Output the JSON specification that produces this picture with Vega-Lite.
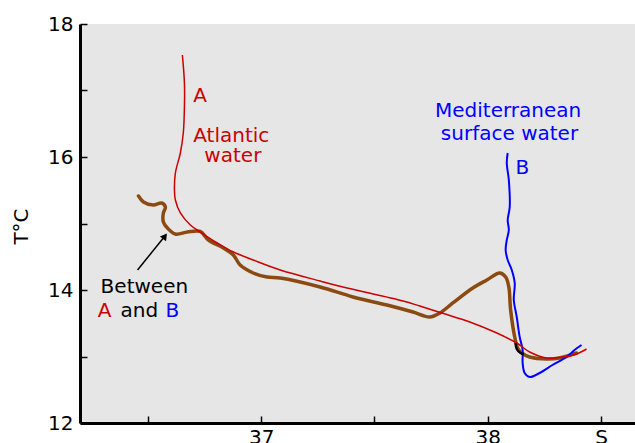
{
  "$schema": "https://vega.github.io/schema/vega-lite/v6.json",
  "width": 555,
  "height": 399,
  "autosize": "none",
  "padding": {"left": 80, "top": 24, "right": 0, "bottom": 20},
  "background": "white",
  "config": {
    "view": {"fill": "#e6e6e6", "stroke": null},
    "font": "DejaVu Sans",
    "axis": {
      "grid": false,
      "domainColor": "black",
      "domainWidth": 3,
      "tickColor": "black",
      "tickWidth": 1.5,
      "tickSize": -7,
      "labelFont": "DejaVu Sans",
      "labelFontSize": 20,
      "labelColor": "black",
      "titleFont": "DejaVu Sans",
      "titleFontSize": 20,
      "titleFontWeight": "normal",
      "titleColor": "black"
    }
  },
  "datasets": {
    "curves": [
      {"c": "brown", "i": 0, "S": 36.458, "T": 15.414},
      {"c": "brown", "i": 1, "S": 36.480, "T": 15.323},
      {"c": "brown", "i": 2, "S": 36.524, "T": 15.278},
      {"c": "brown", "i": 3, "S": 36.560, "T": 15.308},
      {"c": "brown", "i": 4, "S": 36.577, "T": 15.248},
      {"c": "brown", "i": 5, "S": 36.568, "T": 15.158},
      {"c": "brown", "i": 6, "S": 36.568, "T": 15.023},
      {"c": "brown", "i": 7, "S": 36.586, "T": 14.932},
      {"c": "brown", "i": 8, "S": 36.621, "T": 14.842},
      {"c": "brown", "i": 9, "S": 36.674, "T": 14.872},
      {"c": "brown", "i": 10, "S": 36.731, "T": 14.880},
      {"c": "brown", "i": 11, "S": 36.767, "T": 14.752},
      {"c": "brown", "i": 12, "S": 36.833, "T": 14.632},
      {"c": "brown", "i": 13, "S": 36.877, "T": 14.526},
      {"c": "brown", "i": 14, "S": 36.907, "T": 14.376},
      {"c": "brown", "i": 15, "S": 36.965, "T": 14.256},
      {"c": "brown", "i": 16, "S": 37.026, "T": 14.195},
      {"c": "brown", "i": 17, "S": 37.084, "T": 14.180},
      {"c": "brown", "i": 18, "S": 37.260, "T": 14.045},
      {"c": "brown", "i": 19, "S": 37.405, "T": 13.895},
      {"c": "brown", "i": 20, "S": 37.555, "T": 13.774},
      {"c": "brown", "i": 21, "S": 37.670, "T": 13.669},
      {"c": "brown", "i": 22, "S": 37.744, "T": 13.594},
      {"c": "brown", "i": 23, "S": 37.789, "T": 13.654},
      {"c": "brown", "i": 24, "S": 37.846, "T": 13.805},
      {"c": "brown", "i": 25, "S": 37.934, "T": 14.030},
      {"c": "brown", "i": 26, "S": 37.996, "T": 14.150},
      {"c": "brown", "i": 27, "S": 38.053, "T": 14.256},
      {"c": "brown", "i": 28, "S": 38.079, "T": 14.195},
      {"c": "brown", "i": 29, "S": 38.093, "T": 14.045},
      {"c": "brown", "i": 30, "S": 38.101, "T": 13.699},
      {"c": "brown", "i": 31, "S": 38.119, "T": 13.293},
      {"c": "brown", "i": 32, "S": 38.132, "T": 13.128},
      {"c": "brown", "i": 33, "S": 38.150, "T": 13.053},
      {"c": "brown", "i": 34, "S": 38.185, "T": 12.992},
      {"c": "brown", "i": 35, "S": 38.260, "T": 12.962},
      {"c": "brown", "i": 36, "S": 38.317, "T": 12.977},
      {"c": "brown", "i": 37, "S": 38.392, "T": 13.053},
      {"c": "blue", "i": 0, "S": 38.088, "T": 16.060},
      {"c": "blue", "i": 1, "S": 38.084, "T": 15.910},
      {"c": "blue", "i": 2, "S": 38.093, "T": 15.654},
      {"c": "blue", "i": 3, "S": 38.097, "T": 15.248},
      {"c": "blue", "i": 4, "S": 38.088, "T": 15.053},
      {"c": "blue", "i": 5, "S": 38.093, "T": 14.902},
      {"c": "blue", "i": 6, "S": 38.084, "T": 14.752},
      {"c": "blue", "i": 7, "S": 38.079, "T": 14.602},
      {"c": "blue", "i": 8, "S": 38.088, "T": 14.451},
      {"c": "blue", "i": 9, "S": 38.106, "T": 14.301},
      {"c": "blue", "i": 10, "S": 38.119, "T": 14.105},
      {"c": "blue", "i": 11, "S": 38.115, "T": 13.850},
      {"c": "blue", "i": 12, "S": 38.128, "T": 13.594},
      {"c": "blue", "i": 13, "S": 38.141, "T": 13.293},
      {"c": "blue", "i": 14, "S": 38.154, "T": 13.098},
      {"c": "blue", "i": 15, "S": 38.154, "T": 12.902},
      {"c": "blue", "i": 16, "S": 38.163, "T": 12.752},
      {"c": "blue", "i": 17, "S": 38.185, "T": 12.692},
      {"c": "blue", "i": 18, "S": 38.229, "T": 12.752},
      {"c": "blue", "i": 19, "S": 38.286, "T": 12.872},
      {"c": "blue", "i": 20, "S": 38.348, "T": 12.992},
      {"c": "blue", "i": 21, "S": 38.383, "T": 13.098},
      {"c": "blue", "i": 22, "S": 38.414, "T": 13.173},
      {"c": "red", "i": 0, "S": 36.652, "T": 17.534},
      {"c": "red", "i": 1, "S": 36.661, "T": 17.113},
      {"c": "red", "i": 2, "S": 36.661, "T": 16.752},
      {"c": "red", "i": 3, "S": 36.656, "T": 16.361},
      {"c": "red", "i": 4, "S": 36.643, "T": 16.060},
      {"c": "red", "i": 5, "S": 36.621, "T": 15.759},
      {"c": "red", "i": 6, "S": 36.617, "T": 15.504},
      {"c": "red", "i": 7, "S": 36.621, "T": 15.353},
      {"c": "red", "i": 8, "S": 36.643, "T": 15.158},
      {"c": "red", "i": 9, "S": 36.687, "T": 14.977},
      {"c": "red", "i": 10, "S": 36.731, "T": 14.872},
      {"c": "red", "i": 11, "S": 36.806, "T": 14.707},
      {"c": "red", "i": 12, "S": 36.877, "T": 14.571},
      {"c": "red", "i": 13, "S": 36.965, "T": 14.451},
      {"c": "red", "i": 14, "S": 37.084, "T": 14.301},
      {"c": "red", "i": 15, "S": 37.260, "T": 14.135},
      {"c": "red", "i": 16, "S": 37.361, "T": 14.045},
      {"c": "red", "i": 17, "S": 37.626, "T": 13.835},
      {"c": "red", "i": 18, "S": 37.700, "T": 13.759},
      {"c": "red", "i": 19, "S": 37.797, "T": 13.654},
      {"c": "red", "i": 20, "S": 37.921, "T": 13.519},
      {"c": "red", "i": 21, "S": 38.040, "T": 13.353},
      {"c": "red", "i": 22, "S": 38.128, "T": 13.203},
      {"c": "red", "i": 23, "S": 38.185, "T": 13.068},
      {"c": "red", "i": 24, "S": 38.260, "T": 12.977},
      {"c": "red", "i": 25, "S": 38.330, "T": 12.992},
      {"c": "red", "i": 26, "S": 38.392, "T": 13.038},
      {"c": "red", "i": 27, "S": 38.436, "T": 13.113},
      {"c": "black", "i": 0, "S": 38.123, "T": 13.203},
      {"c": "black", "i": 1, "S": 38.128, "T": 13.113},
      {"c": "black", "i": 2, "S": 38.145, "T": 13.053},
      {"c": "black", "i": 3, "S": 38.159, "T": 13.038}
    ],
    "labels": [
      {"txt": "A", "S": 36.700, "T": 16.827, "col": "#cc0000"},
      {"txt": "Atlantic", "S": 36.700, "T": 16.226, "col": "#cc0000"},
      {"txt": "water", "S": 36.749, "T": 15.925, "col": "#cc0000"},
      {"txt": "Mediterranean", "S": 37.767, "T": 16.602, "col": "#0000ff"},
      {"txt": "surface water", "S": 37.793, "T": 16.256, "col": "#0000ff"},
      {"txt": "B", "S": 38.123, "T": 15.744, "col": "#0000ff"},
      {"txt": "Between", "S": 36.291, "T": 13.955, "col": "black"},
      {"txt": "A", "S": 36.278, "T": 13.594, "col": "#cc0000"},
      {"txt": "and", "S": 36.379, "T": 13.594, "col": "black"},
      {"txt": "B", "S": 36.577, "T": 13.594, "col": "#0000ff"}
    ],
    "arrow": [
      {"S": 36.454, "T": 14.301, "S2": 36.568, "T2": 14.782, "HS": 36.575, "HT": 14.809}
    ]
  },
  "encoding": {
    "x": {
      "field": "S", "type": "quantitative",
      "scale": {"domain": [36.2, 38.65], "nice": false, "zero": false},
      "axis": {
        "title": null,
        "values": [36.5, 37, 37.5, 38, 38.5],
        "labelExpr": "datum.value == 37 ? '37' : datum.value == 38 ? '38' : datum.value == 38.5 ? 'S' : ''",
        "labelPadding": 11,
        "labelFlush": false
      }
    },
    "y": {
      "field": "T", "type": "quantitative",
      "scale": {"domain": [12, 18], "nice": false, "zero": false},
      "axis": {
        "title": "T°C",
        "values": [12, 13, 14, 15, 16, 17, 18],
        "labelExpr": "datum.value % 2 == 0 ? datum.label : ''",
        "labelPadding": 14,
        "titleX": -53,
        "titleY": 202,
        "titleAngle": -90,
        "titleAlign": "center",
        "titleBaseline": "alphabetic"
      }
    }
  },
  "layer": [
    {
      "data": {"name": "curves"},
      "transform": [{"filter": "datum.c == 'brown'"}],
      "mark": {"type": "line", "color": "#8b4a12", "strokeWidth": 3.5, "interpolate": "catmull-rom", "strokeCap": "round"},
      "encoding": {"order": {"field": "i", "type": "quantitative"}}
    },
    {
      "data": {"name": "curves"},
      "transform": [{"filter": "datum.c == 'blue'"}],
      "mark": {"type": "line", "color": "#0000ff", "strokeWidth": 2, "interpolate": "catmull-rom"},
      "encoding": {"order": {"field": "i", "type": "quantitative"}}
    },
    {
      "data": {"name": "curves"},
      "transform": [{"filter": "datum.c == 'red'"}],
      "mark": {"type": "line", "color": "#cc0000", "strokeWidth": 1.5, "interpolate": "catmull-rom"},
      "encoding": {"order": {"field": "i", "type": "quantitative"}}
    },
    {
      "data": {"name": "curves"},
      "transform": [{"filter": "datum.c == 'black'"}],
      "mark": {"type": "line", "color": "black", "strokeWidth": 2.5, "interpolate": "catmull-rom"},
      "encoding": {"order": {"field": "i", "type": "quantitative"}}
    },
    {
      "data": {"name": "arrow"},
      "mark": {"type": "rule", "color": "black", "strokeWidth": 1.5},
      "encoding": {
        "x": {"field": "S", "type": "quantitative"},
        "y": {"field": "T", "type": "quantitative"},
        "x2": {"field": "S2"},
        "y2": {"field": "T2"}
      }
    },
    {
      "data": {"name": "arrow"},
      "mark": {"type": "point", "shape": "triangle-up", "filled": true, "color": "black", "size": 60, "angle": 37, "opacity": 1},
      "encoding": {
        "x": {"field": "HS", "type": "quantitative"},
        "y": {"field": "HT", "type": "quantitative"}
      }
    },
    {
      "data": {"name": "labels"},
      "mark": {"type": "text", "align": "left", "baseline": "alphabetic", "fontSize": 20, "font": "DejaVu Sans"},
      "encoding": {
        "text": {"field": "txt"},
        "color": {"field": "col", "type": "nominal", "scale": null}
      }
    }
  ]
}
